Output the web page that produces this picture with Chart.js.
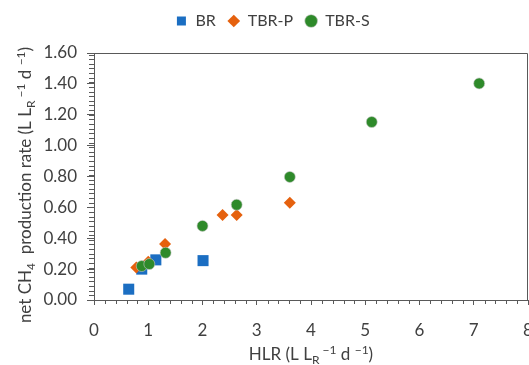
<!DOCTYPE html>
<html><head><meta charset="utf-8">
<script src="https://cdn.jsdelivr.net/npm/chart.js@4.4.0/dist/chart.umd.min.js"></script>
<style>html,body{margin:0;padding:0;background:#fff}#wrap{width:529px;height:365px;position:relative}</style>
</head><body><div id="wrap"><canvas id="c" width="529" height="365"></canvas></div>
<script>
// ---- data ----
const seriesNames = ['BR', 'TBR-P', 'TBR-S'];
const brX   = [0.64, 0.88, 1.14, 2.01];
const brY   = [0.07, 0.20, 0.26, 0.255];
const tbrpX = [0.78, 1.00, 1.31, 2.37, 2.63, 3.61];
const tbrpY = [0.21, 0.248, 0.362, 0.55, 0.55, 0.63];
const tbrsX = [0.88, 1.02, 1.32, 2.00, 2.63, 3.61, 5.12, 7.10];
const tbrsY = [0.22, 0.233, 0.306, 0.48, 0.617, 0.797, 1.153, 1.403];
const xTickLabels = ['0','1','2','3','4','5','6','7','8'];
const yTickLabels = ['0.00','0.20','0.40','0.60','0.80','1.00','1.20','1.40','1.60'];
const xTitleParts = [['HLR (L L',0],['R',-1],[' \u22121',1],[' d ',0],['\u22121',1],[')',0]];
const yTitleParts = [['net CH',0],['4',-1],['  production rate (L L',0],['R',-1],[' \u22121',1],[' d ',0],['\u22121',1],[')',0]];

const FONT = 'Lato';
const FS = 17;
const TXT = '#404040';
const AX = '#595959';
const colors = ['#1b6ec2', '#e5610e', '#2e8a2a'];

const pts = (xs, ys) => xs.map((x, i) => ({x, y: ys[i]}));

function drawRich(ctx, parts, cx, baseY, size) {
  const small = Math.round(size * 0.68);
  let total = 0;
  const w = parts.map(([t, k]) => {
    ctx.font = (k ? small : size) + 'px ' + FONT;
    const m = ctx.measureText(t).width; total += m; return m;
  });
  let x = cx - total / 2;
  parts.forEach(([t, k], i) => {
    ctx.font = (k ? small : size) + 'px ' + FONT;
    const dy = k === -1 ? 4 : (k === 1 ? -6 : 0);
    ctx.fillText(t, x, baseY + dy);
    x += w[i];
  });
}

const decor = {
  id: 'decor',
  afterLayout(chart) {
    const L = chart.legend;
    if (L) { const dy = L.top - 1; L.top -= dy; L.bottom -= dy; }
  },
  afterDraw(chart) {
    const {ctx, chartArea: a, scales: {x, y}} = chart;
    ctx.save();
    ctx.strokeStyle = AX; ctx.lineWidth = 1;
    const top = Math.round(y.getPixelForValue(1.6)) + 0.5;
    const right = Math.round(x.getPixelForValue(8)) - 0.5;
    ctx.beginPath();
    ctx.moveTo(a.left, top); ctx.lineTo(right, top);
    ctx.moveTo(right, top); ctx.lineTo(right, a.bottom);
    // minor ticks y (0.03)
    for (let k = 1; k * 0.03 < 1.6; k++) {
      const py = Math.round(y.getPixelForValue(k * 0.03)) + 0.5;
      ctx.moveTo(a.left - 5, py); ctx.lineTo(a.left, py);
    }
    // minor ticks x (0.2)
    for (let k = 1; k < 40; k++) {
      if (k % 5 === 0) continue;
      const px = Math.round(x.getPixelForValue(k * 0.2)) + 0.5;
      ctx.moveTo(px, a.bottom); ctx.lineTo(px, a.bottom + 4);
    }
    ctx.stroke();
    // axis titles
    ctx.fillStyle = TXT;
    ctx.textBaseline = 'alphabetic';
    ctx.textAlign = 'left';
    drawRich(ctx, xTitleParts, (a.left + a.right) / 2, 360, FS);
    ctx.translate(31, 185);
    ctx.rotate(-Math.PI / 2);
    drawRich(ctx, yTitleParts, 0, 0, FS);
    ctx.restore();
  }
};

Chart.defaults.font.family = FONT;
Chart.defaults.color = TXT;

new Chart(document.getElementById('c'), {
  type: 'scatter',
  data: {
    datasets: [
      {label: seriesNames[0], data: pts(brX, brY), pointStyle: 'rect', pointRadius: 7.8, backgroundColor: colors[0], borderColor: colors[0], borderWidth: 0, order: 3},
      {label: seriesNames[1], data: pts(tbrpX, tbrpY), pointStyle: 'rectRot', pointRadius: 6, backgroundColor: colors[1], borderColor: colors[1], borderWidth: 0, order: 2},
      {label: seriesNames[2], data: pts(tbrsX, tbrsY), pointStyle: 'circle', pointRadius: 5.5, backgroundColor: colors[2], borderColor: '#c8c8c8', borderWidth: 0.6, order: 1}
    ]
  },
  options: {
    responsive: false,
    animation: false,
    events: [],
    layout: {autoPadding: false, padding: {left: 17, top: 0, right: 1, bottom: 0}},
    plugins: {
      legend: {
        position: 'top',
        labels: {
          usePointStyle: true, boxHeight: 9, boxWidth: 12, padding: 12,
          font: {size: 16, family: FONT}, color: TXT,
          sort: (a, b) => a.datasetIndex - b.datasetIndex
        }
      },
      tooltip: {enabled: false}
    },
    scales: {
      x: {
        type: 'linear', min: 0, max: 8,
        afterFit: s => { s.height = 65; s.paddingLeft = 0; s.paddingRight = 0; },
        ticks: {stepSize: 1, padding: 15, font: {size: FS}, color: TXT, callback: (v) => xTickLabels[v] ?? ''},
        grid: {display: true, drawOnChartArea: false, drawTicks: true, tickLength: 5, color: AX},
        border: {display: true, color: AX}
      },
      y: {
        type: 'linear', min: 0, max: 1.6,
        afterFit: s => { s.width = 77; s.paddingTop = 53; s.paddingBottom = 0; },
        ticks: {stepSize: 0.2, padding: 10, font: {size: FS}, color: TXT, callback: (v) => yTickLabels[Math.round(v / 0.2)] ?? ''},
        grid: {display: true, drawOnChartArea: false, drawTicks: true, tickLength: 7, color: AX},
        border: {display: true, color: AX}
      }
    }
  },
  plugins: [decor]
});
</script>
</body></html>
